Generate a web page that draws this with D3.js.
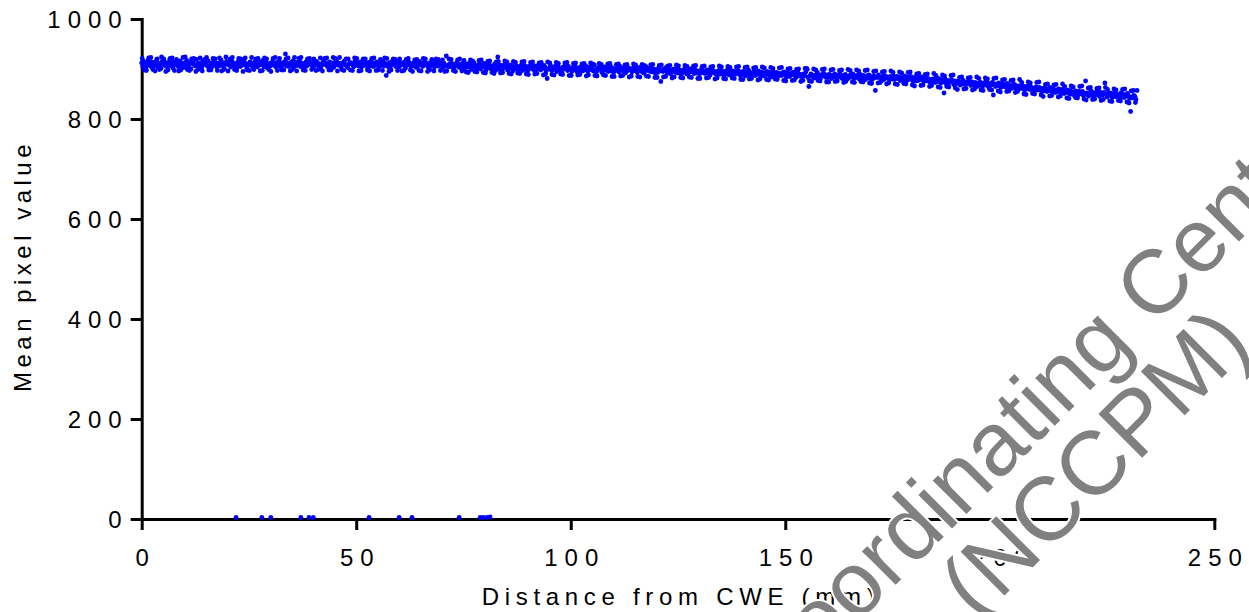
<!DOCTYPE html>
<html><head><meta charset="utf-8">
<script src="https://cdn.jsdelivr.net/npm/d3@7"></script>
<style>html,body{margin:0;padding:0;background:#fff;}svg{display:block}</style>
</head><body>
<svg id="chart" width="1249" height="612"></svg>
<script>
// Distance from CWE (mm) of each sample (row A)
const distance = [
0,0.25,0.5,0.75,1,1.25,1.5,1.75,
2,2.25,2.5,2.75,3,3.25,3.5,3.75,
4,4.25,4.5,4.75,5,5.25,5.5,5.75,
6,6.25,6.5,6.75,7,7.25,7.5,7.75,
8,8.25,8.5,8.75,9,9.25,9.5,9.75,
10,10.25,10.5,10.75,11,11.25,11.5,11.75,
12,12.25,12.5,12.75,13,13.25,13.5,13.75,
14,14.25,14.5,14.75,15,15.25,15.5,15.75,
16,16.25,16.5,16.75,17,17.25,17.5,17.75,
18,18.25,18.5,18.75,19,19.25,19.5,19.75,
20,20.25,20.5,20.75,21,21.25,21.5,21.75,
22,22.25,22.5,22.75,23,23.25,23.5,23.75,
24,24.25,24.5,24.75,25,25.25,25.5,25.75,
26,26.25,26.5,26.75,27,27.25,27.5,27.75,
28,28.25,28.5,28.75,29,29.25,29.5,29.75,
30,30.25,30.5,30.75,31,31.25,31.5,31.75,
32,32.25,32.5,32.75,33,33.25,33.5,33.75,
34,34.25,34.5,34.75,35,35.25,35.5,35.75,
36,36.25,36.5,36.75,37,37.25,37.5,37.75,
38,38.25,38.5,38.75,39,39.25,39.5,39.75,
40,40.25,40.5,40.75,41,41.25,41.5,41.75,
42,42.25,42.5,42.75,43,43.25,43.5,43.75,
44,44.25,44.5,44.75,45,45.25,45.5,45.75,
46,46.25,46.5,46.75,47,47.25,47.5,47.75,
48,48.25,48.5,48.75,49,49.25,49.5,49.75,
50,50.25,50.5,50.75,51,51.25,51.5,51.75,
52,52.25,52.5,52.75,53,53.25,53.5,53.75,
54,54.25,54.5,54.75,55,55.25,55.5,55.75,
56,56.25,56.5,56.75,57,57.25,57.5,57.75,
58,58.25,58.5,58.75,59,59.25,59.5,59.75,
60,60.25,60.5,60.75,61,61.25,61.5,61.75,
62,62.25,62.5,62.75,63,63.25,63.5,63.75,
64,64.25,64.5,64.75,65,65.25,65.5,65.75,
66,66.25,66.5,66.75,67,67.25,67.5,67.75,
68,68.25,68.5,68.75,69,69.25,69.5,69.75,
70,70.25,70.5,70.75,71,71.25,71.5,71.75,
72,72.25,72.5,72.75,73,73.25,73.5,73.75,
74,74.25,74.5,74.75,75,75.25,75.5,75.75,
76,76.25,76.5,76.75,77,77.25,77.5,77.75,
78,78.25,78.5,78.75,79,79.25,79.5,79.75,
80,80.25,80.5,80.75,81,81.25,81.5,81.75,
82,82.25,82.5,82.75,83,83.25,83.5,83.75,
84,84.25,84.5,84.75,85,85.25,85.5,85.75,
86,86.25,86.5,86.75,87,87.25,87.5,87.75,
88,88.25,88.5,88.75,89,89.25,89.5,89.75,
90,90.25,90.5,90.75,91,91.25,91.5,91.75,
92,92.25,92.5,92.75,93,93.25,93.5,93.75,
94,94.25,94.5,94.75,95,95.25,95.5,95.75,
96,96.25,96.5,96.75,97,97.25,97.5,97.75,
98,98.25,98.5,98.75,99,99.25,99.5,99.75,
100,100.25,100.5,100.75,101,101.25,101.5,101.75,
102,102.25,102.5,102.75,103,103.25,103.5,103.75,
104,104.25,104.5,104.75,105,105.25,105.5,105.75,
106,106.25,106.5,106.75,107,107.25,107.5,107.75,
108,108.25,108.5,108.75,109,109.25,109.5,109.75,
110,110.25,110.5,110.75,111,111.25,111.5,111.75,
112,112.25,112.5,112.75,113,113.25,113.5,113.75,
114,114.25,114.5,114.75,115,115.25,115.5,115.75,
116,116.25,116.5,116.75,117,117.25,117.5,117.75,
118,118.25,118.5,118.75,119,119.25,119.5,119.75,
120,120.25,120.5,120.75,121,121.25,121.5,121.75,
122,122.25,122.5,122.75,123,123.25,123.5,123.75,
124,124.25,124.5,124.75,125,125.25,125.5,125.75,
126,126.25,126.5,126.75,127,127.25,127.5,127.75,
128,128.25,128.5,128.75,129,129.25,129.5,129.75,
130,130.25,130.5,130.75,131,131.25,131.5,131.75,
132,132.25,132.5,132.75,133,133.25,133.5,133.75,
134,134.25,134.5,134.75,135,135.25,135.5,135.75,
136,136.25,136.5,136.75,137,137.25,137.5,137.75,
138,138.25,138.5,138.75,139,139.25,139.5,139.75,
140,140.25,140.5,140.75,141,141.25,141.5,141.75,
142,142.25,142.5,142.75,143,143.25,143.5,143.75,
144,144.25,144.5,144.75,145,145.25,145.5,145.75,
146,146.25,146.5,146.75,147,147.25,147.5,147.75,
148,148.25,148.5,148.75,149,149.25,149.5,149.75,
150,150.25,150.5,150.75,151,151.25,151.5,151.75,
152,152.25,152.5,152.75,153,153.25,153.5,153.75,
154,154.25,154.5,154.75,155,155.25,155.5,155.75,
156,156.25,156.5,156.75,157,157.25,157.5,157.75,
158,158.25,158.5,158.75,159,159.25,159.5,159.75,
160,160.25,160.5,160.75,161,161.25,161.5,161.75,
162,162.25,162.5,162.75,163,163.25,163.5,163.75,
164,164.25,164.5,164.75,165,165.25,165.5,165.75,
166,166.25,166.5,166.75,167,167.25,167.5,167.75,
168,168.25,168.5,168.75,169,169.25,169.5,169.75,
170,170.25,170.5,170.75,171,171.25,171.5,171.75,
172,172.25,172.5,172.75,173,173.25,173.5,173.75,
174,174.25,174.5,174.75,175,175.25,175.5,175.75,
176,176.25,176.5,176.75,177,177.25,177.5,177.75,
178,178.25,178.5,178.75,179,179.25,179.5,179.75,
180,180.25,180.5,180.75,181,181.25,181.5,181.75,
182,182.25,182.5,182.75,183,183.25,183.5,183.75,
184,184.25,184.5,184.75,185,185.25,185.5,185.75,
186,186.25,186.5,186.75,187,187.25,187.5,187.75,
188,188.25,188.5,188.75,189,189.25,189.5,189.75,
190,190.25,190.5,190.75,191,191.25,191.5,191.75,
192,192.25,192.5,192.75,193,193.25,193.5,193.75,
194,194.25,194.5,194.75,195,195.25,195.5,195.75,
196,196.25,196.5,196.75,197,197.25,197.5,197.75,
198,198.25,198.5,198.75,199,199.25,199.5,199.75,
200,200.25,200.5,200.75,201,201.25,201.5,201.75,
202,202.25,202.5,202.75,203,203.25,203.5,203.75,
204,204.25,204.5,204.75,205,205.25,205.5,205.75,
206,206.25,206.5,206.75,207,207.25,207.5,207.75,
208,208.25,208.5,208.75,209,209.25,209.5,209.75,
210,210.25,210.5,210.75,211,211.25,211.5,211.75,
212,212.25,212.5,212.75,213,213.25,213.5,213.75,
214,214.25,214.5,214.75,215,215.25,215.5,215.75,
216,216.25,216.5,216.75,217,217.25,217.5,217.75,
218,218.25,218.5,218.75,219,219.25,219.5,219.75,
220,220.25,220.5,220.75,221,221.25,221.5,221.75,
222,222.25,222.5,222.75,223,223.25,223.5,223.75,
224,224.25,224.5,224.75,225,225.25,225.5,225.75,
226,226.25,226.5,226.75,227,227.25,227.5,227.75,
228,228.25,228.5,228.75,229,229.25,229.5,229.75,
230,230.25,230.5,230.75,231,231.25,231.5,231.75,
232
];
// Mean pixel value of each sample (row A)
const meanPixel = [
912,905,915,908,903,911,917,909,
906,914,902,910,913,907,919,904,
911,908,901,915,909,916,906,912,
904,910,918,907,913,902,909,914,
908,915,905,911,916,906,910,903,
912,909,917,905,907,913,900,911,
914,908,906,919,910,904,912,908,
903,915,909,913,911,906,916,902,
908,912,905,914,915,909,904,911,
906,913,918,907,912,901,910,915,
909,914,907,904,916,908,912,906,
910,903,915,911,905,912,908,917,
913,907,902,910,908,914,911,905,
912,906,916,909,904,911,908,914,
910,917,905,907,913,902,909,911,
906,912,915,908,910,904,913,907,
915,909,903,912,908,914,930,906,
911,905,907,913,909,916,904,910,
913,907,911,918,905,912,908,903,
910,914,906,912,916,909,913,907,
904,911,908,915,912,906,910,902,
908,913,917,909,911,905,907,914,
906,912,910,903,913,908,915,909,
907,911,904,912,910,916,908,906,
903,909,913,911,912,907,905,915,
909,913,906,910,914,904,911,908,
907,912,909,901,913,906,916,910,
905,911,908,914,910,903,912,907,
908,915,906,911,887,909,904,913,
906,910,917,908,911,905,909,914,
904,912,908,910,913,907,902,909,
908,914,911,905,910,906,913,908,
903,911,907,915,909,912,905,910,
914,908,911,904,907,913,909,906,
911,904,914,908,906,910,907,912,
909,903,911,906,926,907,904,910,
905,911,908,902,910,906,913,907,
903,909,905,911,908,901,906,910,
904,911,907,899,909,905,912,903,
906,902,908,910,900,907,904,911,
905,898,909,903,908,901,906,900,
903,910,897,905,924,900,908,904,
899,907,903,909,904,898,906,901,
908,902,896,905,900,906,903,899,
905,901,908,897,902,907,899,904,
897,905,901,908,903,899,906,894,
906,900,902,904,898,905,901,907,
904,896,881,900,901,907,897,904,
899,903,906,895,905,900,898,902,
896,904,901,906,903,897,905,899,
900,895,903,898,905,899,894,902,
897,904,900,896,902,898,906,901,
895,903,899,904,901,896,908,898,
894,902,899,905,900,893,903,897,
904,898,901,895,899,906,896,902,
893,900,897,903,898,894,905,899,
902,896,900,892,895,903,898,901,
900,894,897,904,897,902,893,899,
903,896,900,894,892,899,905,897,
898,901,895,903,894,900,897,891,
899,893,902,896,875,898,895,900,
897,903,892,899,895,890,898,894,
900,896,893,901,892,898,895,889,
897,893,900,895,890,896,892,899,
895,901,894,891,898,892,896,893,
889,895,900,893,896,891,894,898,
892,897,888,894,899,893,895,890,
894,888,897,892,890,896,893,887,
895,891,898,889,888,894,890,896,
893,889,895,891,897,892,887,894,
889,895,891,886,894,890,897,888,
891,886,893,895,887,892,889,896,
893,888,894,890,886,892,889,895,
891,887,893,884,888,894,890,886,
893,885,891,889,887,892,888,894,
890,884,892,887,885,891,888,893,
889,894,883,890,892,886,889,885,
884,890,887,893,901,883,865,886,
890,885,887,882,884,889,893,886,
887,882,888,890,891,885,883,888,
883,889,886,881,887,884,890,885,
882,888,884,891,886,881,887,883,
889,885,880,886,883,888,885,890,
881,886,883,887,885,880,889,884,
882,887,884,879,886,883,888,881,
884,879,886,882,857,885,883,888,
884,881,877,885,879,886,882,884,
883,878,885,881,880,886,879,883,
885,881,884,877,878,883,880,886,
882,876,884,879,880,885,881,875,
883,878,876,881,877,882,879,884,
880,875,883,878,876,881,878,873,
879,874,880,876,873,878,875,881,
877,872,879,874,852,880,871,877,
872,876,874,879,874,869,876,872,
871,876,873,868,874,870,877,872,
869,873,871,875,872,867,874,870,
868,873,870,865,871,867,873,869,
866,872,868,874,870,865,871,867,
868,873,848,870,865,869,867,872,
867,863,870,866,869,864,867,871,
863,868,865,861,866,870,862,867,
864,859,866,862,861,866,863,858,
865,860,863,867,859,864,861,856,
862,857,864,860,858,863,860,855,
861,856,862,858,855,860,857,863,
859,854,861,856,853,858,855,860,
857,852,859,855,851,856,853,858,
855,850,857,853,849,854,851,856,
853,848,855,851,850,855,847,852,
876,849,852,846,851,856,848,853,
847,852,849,855,851,845,853,849,
848,853,872,850,844,850,847,852,
849,843,851,846,845,850,848,842,
847,852,844,849,843,848,846,851,
846,841,815,844,842,847,845,839,
857
];
// Distance (mm) of the interleaved samples (row B)
const distanceB = [
0.125,0.625,1.125,1.625,2.125,2.625,3.125,3.625,
4.125,4.625,5.125,5.625,6.125,6.625,7.125,7.625,
8.125,8.625,9.125,9.625,10.125,10.625,11.125,11.625,
12.125,12.625,13.125,13.625,14.125,14.625,15.125,15.625,
16.125,16.625,17.125,17.625,18.125,18.625,19.125,19.625,
20.125,20.625,21.125,21.625,22.125,22.625,23.125,23.625,
24.125,24.625,25.125,25.625,26.125,26.625,27.125,27.625,
28.125,28.625,29.125,29.625,30.125,30.625,31.125,31.625,
32.125,32.625,33.125,33.625,34.125,34.625,35.125,35.625,
36.125,36.625,37.125,37.625,38.125,38.625,39.125,39.625,
40.125,40.625,41.125,41.625,42.125,42.625,43.125,43.625,
44.125,44.625,45.125,45.625,46.125,46.625,47.125,47.625,
48.125,48.625,49.125,49.625,50.125,50.625,51.125,51.625,
52.125,52.625,53.125,53.625,54.125,54.625,55.125,55.625,
56.125,56.625,57.125,57.625,58.125,58.625,59.125,59.625,
60.125,60.625,61.125,61.625,62.125,62.625,63.125,63.625,
64.125,64.625,65.125,65.625,66.125,66.625,67.125,67.625,
68.125,68.625,69.125,69.625,70.125,70.625,71.125,71.625,
72.125,72.625,73.125,73.625,74.125,74.625,75.125,75.625,
76.125,76.625,77.125,77.625,78.125,78.625,79.125,79.625,
80.125,80.625,81.125,81.625,82.125,82.625,83.125,83.625,
84.125,84.625,85.125,85.625,86.125,86.625,87.125,87.625,
88.125,88.625,89.125,89.625,90.125,90.625,91.125,91.625,
92.125,92.625,93.125,93.625,94.125,94.625,95.125,95.625,
96.125,96.625,97.125,97.625,98.125,98.625,99.125,99.625,
100.125,100.625,101.125,101.625,102.125,102.625,103.125,103.625,
104.125,104.625,105.125,105.625,106.125,106.625,107.125,107.625,
108.125,108.625,109.125,109.625,110.125,110.625,111.125,111.625,
112.125,112.625,113.125,113.625,114.125,114.625,115.125,115.625,
116.125,116.625,117.125,117.625,118.125,118.625,119.125,119.625,
120.125,120.625,121.125,121.625,122.125,122.625,123.125,123.625,
124.125,124.625,125.125,125.625,126.125,126.625,127.125,127.625,
128.125,128.625,129.125,129.625,130.125,130.625,131.125,131.625,
132.125,132.625,133.125,133.625,134.125,134.625,135.125,135.625,
136.125,136.625,137.125,137.625,138.125,138.625,139.125,139.625,
140.125,140.625,141.125,141.625,142.125,142.625,143.125,143.625,
144.125,144.625,145.125,145.625,146.125,146.625,147.125,147.625,
148.125,148.625,149.125,149.625,150.125,150.625,151.125,151.625,
152.125,152.625,153.125,153.625,154.125,154.625,155.125,155.625,
156.125,156.625,157.125,157.625,158.125,158.625,159.125,159.625,
160.125,160.625,161.125,161.625,162.125,162.625,163.125,163.625,
164.125,164.625,165.125,165.625,166.125,166.625,167.125,167.625,
168.125,168.625,169.125,169.625,170.125,170.625,171.125,171.625,
172.125,172.625,173.125,173.625,174.125,174.625,175.125,175.625,
176.125,176.625,177.125,177.625,178.125,178.625,179.125,179.625,
180.125,180.625,181.125,181.625,182.125,182.625,183.125,183.625,
184.125,184.625,185.125,185.625,186.125,186.625,187.125,187.625,
188.125,188.625,189.125,189.625,190.125,190.625,191.125,191.625,
192.125,192.625,193.125,193.625,194.125,194.625,195.125,195.625,
196.125,196.625,197.125,197.625,198.125,198.625,199.125,199.625,
200.125,200.625,201.125,201.625,202.125,202.625,203.125,203.625,
204.125,204.625,205.125,205.625,206.125,206.625,207.125,207.625,
208.125,208.625,209.125,209.625,210.125,210.625,211.125,211.625,
212.125,212.625,213.125,213.625,214.125,214.625,215.125,215.625,
216.125,216.625,217.125,217.625,218.125,218.625,219.125,219.625,
220.125,220.625,221.125,221.625,222.125,222.625,223.125,223.625,
224.125,224.625,225.125,225.625,226.125,226.625,227.125,227.625,
228.125,228.625,229.125,229.625,230.125,230.625,231.125,231.625
];
// Mean pixel value of the interleaved samples (row B)
const meanPixelB = [
921,898,897,922,923,899,896,920,
899,924,920,895,898,921,922,897,
919,896,898,923,924,899,897,920,
921,895,899,922,896,919,923,898,
898,921,920,897,922,896,899,924,
896,920,923,899,897,921,920,895,
922,898,897,923,899,920,921,896,
897,922,920,899,895,921,923,897,
921,898,898,920,922,896,899,923,
896,921,923,898,897,920,921,899,
920,897,899,922,896,921,922,898,
898,923,921,896,923,899,897,920,
920,898,897,922,921,896,897,920,
920,898,896,921,922,897,898,919,
897,922,921,895,898,920,919,897,
920,896,897,919,921,898,895,918,
919,897,896,921,920,895,898,919,
896,920,919,897,918,895,896,920,
919,897,895,918,920,896,917,894,
893,918,916,895,894,917,918,893,
892,915,916,893,891,914,915,892,
893,916,914,891,890,915,913,892,
891,914,915,890,889,913,914,890,
891,912,913,888,890,914,912,889,
888,913,911,890,889,912,913,887,
887,911,912,888,889,910,911,886,
888,912,910,887,886,911,909,888,
887,910,911,885,885,909,910,886,
887,908,909,884,886,910,908,885,
884,909,907,886,885,908,909,883,
883,907,908,884,885,906,907,882,
884,908,906,883,882,907,905,884,
883,906,907,881,881,905,906,882,
883,904,905,880,882,906,904,881,
880,905,903,882,881,904,905,879,
879,903,904,880,881,902,903,878,
880,904,902,879,878,903,901,880,
879,902,903,877,876,900,901,877,
878,899,900,875,877,901,899,876,
875,900,898,877,876,899,900,874,
874,898,899,875,876,897,898,873,
875,899,897,874,873,898,896,875,
874,897,898,872,871,895,896,872,
873,894,895,870,872,896,893,870,
869,894,892,871,870,893,894,868,
866,890,891,867,868,889,890,865,
867,891,887,864,863,888,886,865,
864,887,888,862,859,883,884,860,
861,882,883,858,860,884,881,858,
857,882,880,859,858,881,882,856,
854,878,879,855,856,877,878,853,
855,879,873,850,849,874,872,851,
850,873,874,848,845,869,870,846,
847,868,869,844,846,870,865,842,
841,866,864,843,842,865,866,840,
838,862,863,839,840,861,862,837,
839,863,859,836,835,860,858,837,
836,859,860,834,832,856,857,833
];
// Near-zero dropout samples lying on the x axis
const dropoutDistance = [22.0, 28.0, 30.1, 37.1, 39.0, 40.0, 53.0, 60.0, 63.0, 74.0, 78.9, 79.6, 80.5, 81.2];
const dropoutValue = [3, 3, 3, 3, 3, 3, 3, 3, 3, 3, 3, 3, 3, 4];

const xTicks = [0, 50, 100, 150, 200, 250];
const yTicks = [0, 200, 400, 600, 800, 1000];
const xTitle = "Distance from CWE (mm)";
const yTitle = "Mean pixel value";
const watermarkLine1 = "Coordinating Centre";
const watermarkLine2 = "(NCCPM)";

const FONT = "'Liberation Sans', Arial, Helvetica, sans-serif";
const svg = d3.select("#chart");
const x = d3.scaleLinear().domain([0, 250]).range([141.7, 1214.3]);
const y = d3.scaleLinear().domain([0, 1000]).range([519, 19]);

// Axes
const gx = svg.append("g").attr("transform", `translate(0,${y(0)})`)
  .call(d3.axisBottom(x).tickValues(xTicks).tickSize(11).tickSizeOuter(0).tickPadding(19).tickFormat(d3.format("d")));
const gy = svg.append("g").attr("transform", `translate(${x(0)},0)`)
  .call(d3.axisLeft(y).tickValues(yTicks).tickSize(11).tickSizeOuter(0).tickPadding(2).tickFormat(d3.format("d")));
[gx, gy].forEach(g => {
  g.select(".domain").attr("stroke", "#000").attr("stroke-width", 3).attr("stroke-linecap", "square");
  g.selectAll(".tick line").attr("stroke", "#000").attr("stroke-width", 3);
  g.selectAll(".tick text").attr("fill", "#000").style("font-family", FONT)
    .style("font-size", "24px").style("letter-spacing", "7px");
});
gx.selectAll(".tick text").attr("dx", "3.5");
gy.selectAll(".tick text").attr("dy", "0.35em");

// Axis titles
svg.append("text").attr("x", (x.range()[0] + x.range()[1]) / 2 + 3).attr("y", 605)
  .attr("text-anchor", "middle").style("font-family", FONT).style("font-size", "24px")
  .style("letter-spacing", "5.7px").attr("fill", "#000").text(xTitle);
svg.append("text").attr("transform", `translate(31,266) rotate(-90)`)
  .attr("text-anchor", "middle").style("font-family", FONT).style("font-size", "24px")
  .style("letter-spacing", "4.5px").attr("fill", "#000").text(yTitle);

// Points
const pts = distance.map((d, i) => ({ d, v: meanPixel[i] }))
  .concat(distanceB.map((d, i) => ({ d, v: meanPixelB[i] })))
  .concat(dropoutDistance.map((d, i) => ({ d, v: dropoutValue[i] })));
svg.append("g").selectAll("circle").data(pts).join("circle")
  .attr("cx", p => x(p.d)).attr("cy", p => y(p.v)).attr("r", 2.4).attr("fill", "#0000ff");

// Watermark
const wm = svg.append("g").style("font-family", FONT).style("font-size", "90px")
  .attr("fill", "#808080").attr("stroke", "#fff").attr("stroke-width", 4)
  .style("paint-order", "stroke");
wm.append("text").attr("transform", "translate(774.5,706) rotate(-45)").text(watermarkLine1);
wm.append("text").attr("transform", "translate(978,622) rotate(-45)").text(watermarkLine2);
</script>
</body></html>
